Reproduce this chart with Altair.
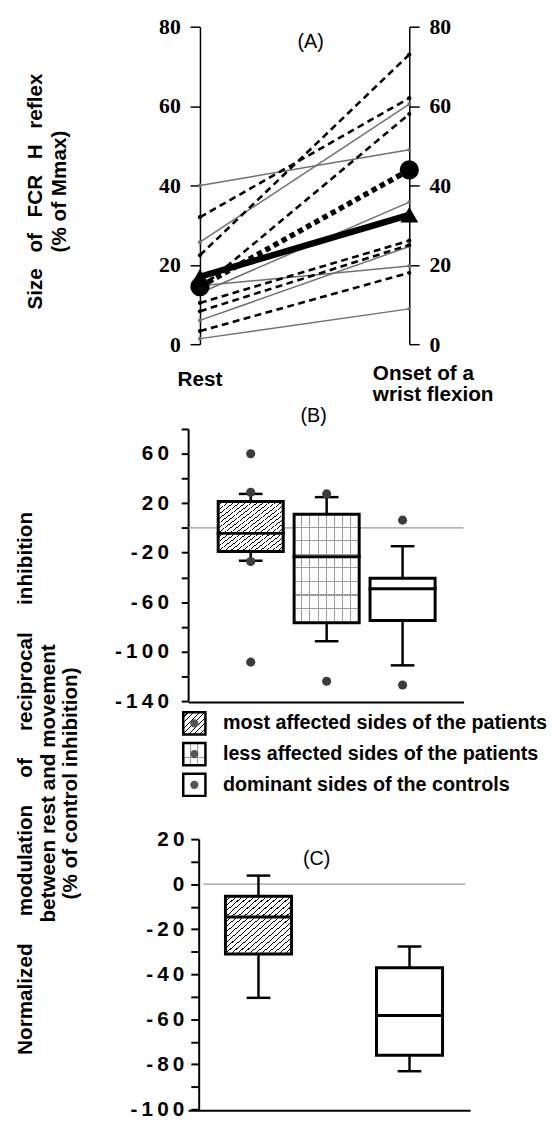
import altair as alt
import pandas as pd

# ---------------- data ----------------
# Panel A : size of FCR H reflex (% of Mmax)
time_labels = ["Rest", "Onset of a\nwrist flexion"]
time_pos = [0, 1]
patients_rest = [32.0, 22.4, 14.0, 10.4, 8.3, 3.3]
patients_onset = [62.0, 73.0, 58.0, 26.1, 25.0, 18.0]
controls_rest = [40.0, 25.7, 12.9, 14.7, 6.0, 1.4]
controls_onset = [49.0, 60.5, 35.8, 19.7, 24.6, 8.9]
patients_mean = [14.5, 43.9]
controls_mean = [17.0, 32.6]
panel_letters = ["(A)", "(B)", "(C)"]

# Panel B : modulation of reciprocal inhibition
groups = ["most affected sides of the patients",
          "less affected sides of the patients",
          "dominant sides of the controls"]
b_slot = [1, 2, 3]
b_low = [-26.5, -91.6, -111.1]
b_q1 = [-19.1, -76.7, -74.9]
b_med = [-4.4, -23.3, -49.1]
b_q3 = [21.4, 11.1, -40.6]
b_high = [27.5, 24.9, -14.8]
b_out_group = [0, 0, 0, 0, 1, 1, 2, 2]
b_out_value = [60.0, 28.8, -27.1, -108.5, 27.5, -124.0, 6.3, -127.0]

# Panel C : normalized modulation
c_group = [0, 2]
c_slot = [1, 3]
c_low = [-50.5, -83.1]
c_q1 = [-31.0, -76.0]
c_med = [-14.6, -58.3]
c_q3 = [-5.4, -37.1]
c_high = [3.8, -27.7]

# ---------------- style helpers ----------------
FONT = "Liberation Sans"
SERIF = "Liberation Serif"
NB = "\u00a0"
TH = "\u2009"


def lin_domain(v0, p0, v1, p1, width):
    k = (p1 - p0) / (v1 - v0)
    d0 = v0 - p0 / k
    return [d0, d0 + width / k]


def stripes(n, color, frac, x2, y2, bg="white"):
    stops = []
    for i in range(n):
        a, b, c = i / n, (i + 1 - frac) / n, (i + 1) / n
        stops += [alt.GradientStop(color=bg, offset=round(a, 5)),
                  alt.GradientStop(color=bg, offset=round(b, 5)),
                  alt.GradientStop(color=color, offset=round(b, 5)),
                  alt.GradientStop(color=color, offset=round(c, 5))]
    return alt.LinearGradient(gradient="linear", stops=stops, x1=0, y1=0, x2=x2, y2=y2)


CLEAR = "rgba(255,255,255,0)"
spaced = "join(split('' + datum.value, ''), '" + TH + "')"

# ---------------- Panel A ----------------
A_W, A_H = 224.3, 322
a_dom = lin_domain(0, 12.0, 1, 224.3, A_W)
sx_A = alt.Scale(domain=a_dom, nice=False, zero=False)
sy_A = alt.Scale(domain=[0, 80], nice=False, zero=False)

title_A = ["Size" + NB * 2 + TH + "of" + NB * 2 + TH + "FCR" + NB * 2 + TH + "H" + NB * 2 + TH + "reflex",
           "(% of Mmax)"]


def a_axis(orient, offset, title=None):
    kw = dict(orient=orient, offset=offset, values=[0, 20, 40, 60, 80], grid=False,
              domainColor="black", domainWidth=1.5, tickColor="black", tickWidth=1.5,
              tickSize=10, labelFont=SERIF, labelFontSize=22, labelFontWeight="bold",
              labelColor="black", labelPadding=10)
    if title:
        kw.update(title=title, titleFont=FONT, titleFontSize=21, titleFontWeight="bold",
                  titleColor="black", titleAngle=270, titleBaseline="top", titleAlign="center",
                  titleX=-177.6, titleY=166.7, titleLineHeight=24)
    else:
        kw["title"] = None
    return alt.Axis(**kw)


def long_df(rest, onset, prefix):
    rows = []
    for i, (r, o) in enumerate(zip(rest, onset)):
        rows.append({"s": f"{prefix}{i}", "t": time_pos[0], "v": r})
        rows.append({"s": f"{prefix}{i}", "t": time_pos[1], "v": o})
    return pd.DataFrame(rows)


df_c = long_df(controls_rest, controls_onset, "c")
df_p = long_df(patients_rest, patients_onset, "p")
df_cm = pd.DataFrame({"t": time_pos, "v": controls_mean})
df_pm = pd.DataFrame({"t": time_pos, "v": patients_mean})
df_lab = pd.DataFrame({"t": time_pos, "lab": time_labels})


def XA():
    return alt.X("t:Q", scale=sx_A, axis=None)


def YA(axis=None):
    return alt.Y("v:Q", scale=sy_A, axis=axis)


a_layers = [
    alt.Chart(df_c).mark_line(color="#707070", strokeWidth=1.5).encode(
        x=XA(), y=YA(a_axis("left", -12.0, title_A)), detail="s:N"),
    alt.Chart(df_c).mark_circle(color="#707070", size=16, opacity=1).encode(x=XA(), y=YA()),
    alt.Chart(df_p).mark_line(color="black", strokeWidth=2.6, strokeDash=[7, 4.5]).encode(
        x=XA(), y=YA(a_axis("right", 0)), detail="s:N"),
    alt.Chart(df_p).mark_circle(color="black", size=18, opacity=1).encode(x=XA(), y=YA()),
    alt.Chart(df_cm).mark_line(color="black", strokeWidth=6.5).encode(x=XA(), y=YA()),
    alt.Chart(df_cm).mark_point(shape="triangle-up", filled=True, size=330, color="black",
                                opacity=1).encode(x=XA(), y=YA()),
    alt.Chart(df_pm).mark_line(color="black", strokeWidth=5.5, strokeDash=[5.5, 4]).encode(
        x=XA(), y=YA()),
    alt.Chart(df_pm).mark_circle(color="black", size=380, opacity=1).encode(x=XA(), y=YA()),
    alt.Chart(df_lab[df_lab.t == time_pos[0]]).mark_text(
        align="center", baseline="alphabetic", font=FONT, fontSize=21, fontWeight="bold",
        color="black").encode(x=XA(), y=alt.value(364.7), text="lab:N"),
    alt.Chart(df_lab[df_lab.t == time_pos[1]]).mark_text(
        align="left", baseline="alphabetic", dx=-37, font=FONT, fontSize=21, fontWeight="bold",
        color="black", lineBreak="\n", lineHeight=21.6).encode(
        x=XA(), y=alt.value(358.4), text="lab:N"),
    alt.Chart(pd.DataFrame({"lab": [panel_letters[0]]})).mark_text(
        font=FONT, fontSize=20, color="black", baseline="middle").encode(
        x=alt.value(124.3), y=alt.value(15.7), text="lab:N"),
]
panelA = alt.layer(*a_layers).resolve_axis(y="independent").properties(width=A_W, height=A_H)

spacer = alt.Chart(pd.DataFrame({"z": [0]})).mark_point(opacity=0).encode(
    x=alt.X("z:Q", axis=None), y=alt.Y("z:Q", axis=None)).properties(width=50, height=85.6)

# ---------------- Panel B ----------------
B_W, B_H = 279.3, 276
b_dom = lin_domain(1, 60.65, 3, 220.4, B_W)
sx_B = alt.Scale(domain=b_dom, nice=False, zero=False)
sy_B = alt.Scale(domain=[-140, 80], nice=False, zero=False)
title_BC = ["Normalized" + NB * 4 + TH + "modulation" + NB * 4 + TH + "of" + NB * 4 + TH +
            "reciprocal" + NB * 4 + TH + "inhibition",
            "between rest and movement",
            "(% of control inhibition)"]

yB_axis = alt.Axis(orient="left", values=list(range(-140, 81, 20)),
                   labelExpr="(datum.value + 140) % 40 == 0 ? " + spaced + " : ''",
                   grid=False, domainColor="black", domainWidth=2, tickColor="black",
                   tickWidth=2, tickSize=7, labelFont=FONT, labelFontSize=21,
                   labelFontWeight="bold", labelColor="black", labelPadding=13,
                   title=title_BC, titleFont=FONT, titleFontSize=21, titleFontWeight="bold",
                   titleColor="black", titleAngle=270, titleBaseline="top", titleAlign="center",
                   titleX=-176, titleY=359, titleLineHeight=23)
xB_axis = alt.Axis(orient="bottom", labels=False, ticks=False, domain=True, domainColor="black",
                   domainWidth=2, grid=False, title=None, offset=1)

dfB = pd.DataFrame({"slot": b_slot, "low": b_low, "q1": b_q1, "med": b_med,
                    "q3": b_q3, "high": b_high})
dfBo = pd.DataFrame({"slot": [b_slot[i] for i in b_out_group], "v": b_out_value})


def box_layers(df, sx, sy, fills, width, yaxis=None, xaxis=None, zero_x=None):
    def X(axis=None):
        return alt.X("slot:Q", scale=sx, axis=axis)

    def Y(f, axis=None):
        return alt.Y(f + ":Q", scale=sy, axis=axis)

    layers = []
    zero_enc = dict(y=alt.YDatum(0, scale=sy, axis=None))
    if zero_x is not None:
        zero_enc.update(x=alt.XDatum(zero_x[0], scale=sx, axis=None), x2=alt.X2Datum(zero_x[1]))
    layers.append(alt.Chart(pd.DataFrame({"z": [0]})).mark_rule(
        color="#9a9a9a", strokeWidth=1.3).encode(**zero_enc))
    layers.append(alt.Chart(df).mark_rule(color="black", strokeWidth=2.5).encode(
        x=X(xaxis), y=Y("low", yaxis), y2="high:Q"))
    for f in ["low", "high"]:
        layers.append(alt.Chart(df).mark_tick(orient="horizontal", size=24, thickness=2.5,
                                              color="black", opacity=1).encode(x=X(), y=Y(f)))
    for i, fl in enumerate(fills):
        sub = df.iloc[[i]]
        for f in fl:
            layers.append(alt.Chart(sub).mark_bar(size=width, fill=f, strokeWidth=0).encode(
                x=X(), y=Y("q1"), y2="q3:Q"))
    layers.append(alt.Chart(df).mark_bar(size=width, fill=CLEAR, stroke="black",
                                         strokeWidth=3).encode(x=X(), y=Y("q1"), y2="q3:Q"))
    layers.append(alt.Chart(df).mark_tick(orient="horizontal", size=width + 3, thickness=3,
                                          color="black", opacity=1).encode(x=X(), y=Y("med")))
    return layers


DOT = "#9c9c9c"
hatch_B = stripes(22, "black", 0.2, 1, 1)
vdots_B = stripes(8, DOT, 0.12, 1, 0, bg=CLEAR)
hdots_B = stripes(8, DOT, 0.09, 0, 1, bg=CLEAR)

b_layers = box_layers(dfB, sx_B, sy_B,
                      [[hatch_B], ["white", vdots_B, hdots_B], ["white"]], 66,
                      yaxis=yB_axis, xaxis=xB_axis)
b_layers.append(alt.Chart(dfBo).mark_circle(size=85, color="#3c3c3c", opacity=1).encode(
    x=alt.X("slot:Q", scale=sx_B, axis=None), y=alt.Y("v:Q", scale=sy_B, axis=None)))
b_layers.append(alt.Chart(pd.DataFrame({"lab": [panel_letters[1]]})).mark_text(
    font=FONT, fontSize=20, color="black", baseline="middle").encode(
    x=alt.value(127.3), y=alt.value(-12.9), text="lab:N"))
panelB = alt.layer(*b_layers).resolve_axis(x="independent", y="independent").properties(
    width=B_W, height=B_H)

# ---------------- Legend ----------------
L_H = 139.1
leg_dom = lin_domain(0, 22.6, 2, 84.9, L_H)
LY = alt.Y("row:Q", scale=alt.Scale(domain=leg_dom, reverse=True, nice=False, zero=False),
           axis=None)
dfL = pd.DataFrame({"row": [0, 1, 2], "name": [groups[0], groups[1], NB + groups[2]]})
SQ = 506
hatch_L = stripes(8, "black", 0.2, 1, 1)
vdots_L = stripes(3, DOT, 0.12, 1, 0, bg=CLEAR)
hdots_L = stripes(3, DOT, 0.09, 0, 1, bg=CLEAR)
leg_fills = [[hatch_L], ["white", vdots_L, hdots_L], ["white"]]
l_layers = []
for r, fl in enumerate(leg_fills):
    for f in fl:
        l_layers.append(alt.Chart(dfL[dfL.row == r]).mark_point(
            shape="square", size=SQ, filled=True, fill=f, strokeWidth=0, opacity=1).encode(
            x=alt.value(6.3), y=LY))
l_layers.append(alt.Chart(dfL).mark_point(shape="square", size=SQ, filled=False, stroke="black",
                                          strokeWidth=2.5, opacity=1).encode(x=alt.value(6.3), y=LY))
l_layers.append(alt.Chart(dfL).mark_circle(size=70, color="#555555", opacity=1).encode(
    x=alt.value(6.3), y=LY))
l_layers.append(alt.Chart(dfL).mark_text(align="left", baseline="middle", font=FONT, fontSize=20,
                                         fontWeight="bold", color="black").encode(
    x=alt.value(35.3), y=LY, text="name:N"))
legend = alt.layer(*l_layers).properties(width=50, height=L_H)

# ---------------- Panel C ----------------
C_W, C_H = 286, 274
c_dom = lin_domain(1, 68.75, 3, 227.5, C_W)
kC = (227.5 - 68.75) / 2
sx_C = alt.Scale(domain=c_dom, nice=False, zero=False)
sy_C = alt.Scale(domain=[-100, 20], nice=False, zero=False)
yC_axis = alt.Axis(orient="left", offset=-10.7, values=list(range(-100, 21, 10)),
                   labelExpr="(datum.value + 100) % 20 == 0 ? " + spaced + " : ''",
                   grid=False, domainColor="black", domainWidth=2, tickColor="black",
                   tickWidth=2, tickSize=8, labelFont=FONT, labelFontSize=21,
                   labelFontWeight="bold", labelColor="black", labelPadding=7, title=None)
xC_axis = alt.Axis(orient="bottom", labels=False, ticks=False, domain=True, domainColor="black",
                   domainWidth=2, grid=False, title=None, offset=1)
dfC = pd.DataFrame({"slot": c_slot, "low": c_low, "q1": c_q1, "med": c_med,
                    "q3": c_q3, "high": c_high})
hatch_C = stripes(22, "black", 0.2, 1, 1)
c_layers = box_layers(dfC, sx_C, sy_C, [[hatch_C], ["white"]], 67, yaxis=yC_axis,
                      xaxis=xC_axis, zero_x=[c_dom[0] + 10.7 / kC, c_dom[1]])
c_layers.append(alt.Chart(pd.DataFrame({"lab": [panel_letters[2]]})).mark_text(
    font=FONT, fontSize=20, color="black", baseline="middle").encode(
    x=alt.value(130.3), y=alt.value(20.7), text="lab:N"))
panelC = alt.layer(*c_layers).resolve_axis(x="independent", y="independent").properties(
    width=C_W, height=C_H)

chart = alt.vconcat(panelA, spacer, panelB, legend, panelC, spacing=0, bounds="flush") \
    .configure_view(stroke=None) \
    .properties(padding={"left": 6.7, "top": 0, "right": 0, "bottom": 0}, background="white")

chart.save("out.html", embed_options={"renderer": "svg", "actions": False})
